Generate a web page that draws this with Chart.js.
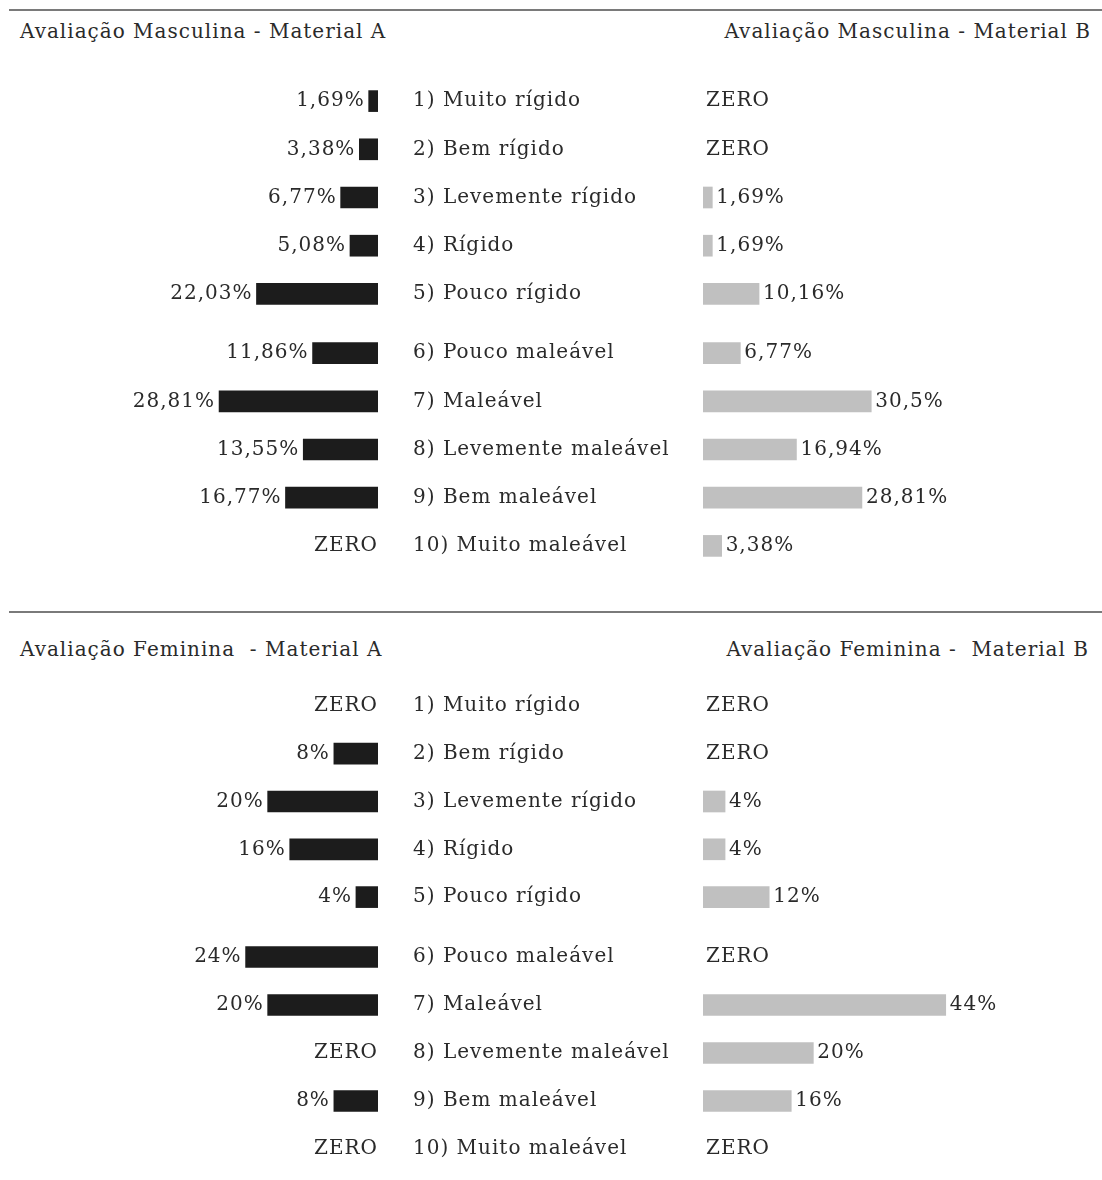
<!DOCTYPE html>
<html>
<head>
<meta charset="utf-8">
<script src="https://cdn.jsdelivr.net/npm/chart.js@4"></script>
<style>
  body { margin: 0; background: #fff; }
  #page { position: relative; width: 1102px; height: 1180px; font-family: "DejaVu Serif", serif; font-size: 20px; letter-spacing: 1px; color: #2a2a2a; }
  .rule { position: absolute; left: 9px; right: 0; height: 2px; background: #7a7a7a; }
  .ttl { position: absolute; white-space: pre; line-height: 24px; }
  .box { position: absolute; }
</style>
</head>
<body>
<div id="page">
  <div class="rule" style="top:9px"></div>
  <div class="ttl" style="left:20px;top:19px">Avaliação Masculina - Material A</div>
  <div class="ttl" style="right:11px;top:19px">Avaliação Masculina - Material B</div>
  <!-- rows 1-5 and 6-10 sit in separate blocks: the original leaves a small gap between them -->
  <div class="box" style="left:0;top:77px;width:380px;height:241px"><canvas id="masc-a-1"></canvas></div>
  <div class="box" style="left:413px;top:77px;width:689px;height:241px"><canvas id="masc-b-1"></canvas></div>
  <div class="box" style="left:0;top:329px;width:380px;height:241px"><canvas id="masc-a-2"></canvas></div>
  <div class="box" style="left:413px;top:329px;width:689px;height:241px"><canvas id="masc-b-2"></canvas></div>

  <div class="rule" style="top:611px"></div>
  <div class="ttl" style="left:20px;top:637px">Avaliação Feminina  - Material A</div>
  <div class="ttl" style="right:13px;top:637px">Avaliação Feminina -  Material B</div>
  <div class="box" style="left:0;top:682px;width:380px;height:239px"><canvas id="fem-a-1"></canvas></div>
  <div class="box" style="left:413px;top:682px;width:689px;height:239px"><canvas id="fem-b-1"></canvas></div>
  <div class="box" style="left:0;top:933px;width:380px;height:240px"><canvas id="fem-a-2"></canvas></div>
  <div class="box" style="left:413px;top:933px;width:689px;height:240px"><canvas id="fem-b-2"></canvas></div>
</div>
<script>
const categories = ['1) Muito rígido', '2) Bem rígido', '3) Levemente rígido', '4) Rígido', '5) Pouco rígido',
  '6) Pouco maleável', '7) Maleável', '8) Levemente maleável', '9) Bem maleável', '10) Muito maleável'];
const masculinoA = [1.69, 3.38, 6.77, 5.08, 22.03, 11.86, 28.81, 13.55, 16.77, 0];
const masculinoB = [0, 0, 1.69, 1.69, 10.16, 6.77, 30.5, 16.94, 28.81, 3.38];
const femininoA = [0, 8, 20, 16, 4, 24, 20, 0, 8, 0];
const femininoB = [0, 0, 4, 4, 12, 0, 44, 20, 16, 0];

const FONT = '"DejaVu Serif", serif';
const TEXT = '#2a2a2a';

function fmt(v) {
  return String(v).replace('.', ',') + '%';
}

// a little letter spacing for all canvas text
const spacing = {
  id: 'spacing',
  beforeDraw(chart) { chart.ctx.letterSpacing = '1px'; }
};

// writes the percentage (or ZERO) next to every bar
const valueLabels = {
  id: 'valueLabels',
  afterDatasetsDraw(chart, args, opts) {
    const ctx = chart.ctx;
    const data = chart.data.datasets[0].data;
    const left = opts.side === 'left';
    ctx.save();
    ctx.font = '20px ' + FONT;
    ctx.fillStyle = TEXT;
    ctx.textBaseline = 'middle';
    ctx.textAlign = left ? 'right' : 'left';
    chart.getDatasetMeta(0).data.forEach((bar, i) => {
      const v = data[i];
      if (v === 0) {
        ctx.fillText('ZERO', left ? bar.base : bar.base + 3, bar.y);
      } else {
        ctx.fillText(fmt(v), left ? bar.x - 4 : bar.x + 4, bar.y);
      }
    });
    ctx.restore();
  }
};

function sideChart(id, labels, values, side) {
  const left = side === 'left';
  const color = left ? '#1c1c1c' : '#c0c0c0';
  new Chart(document.getElementById(id), {
    type: 'bar',
    data: {
      labels: labels,
      datasets: [{
        data: values,
        backgroundColor: values.map(v => v === 0 ? 'rgba(0,0,0,0)' : color),
        barThickness: 21
      }]
    },
    options: {
      indexAxis: 'y',
      responsive: true,
      maintainAspectRatio: false,
      animation: false,
      layout: { padding: left ? { left: 47, right: 2, top: 0, bottom: 0 } : { left: 0, right: 68, top: 0, bottom: 0 } },
      plugins: {
        legend: { display: false },
        tooltip: { enabled: false },
        valueLabels: { side: side }
      },
      scales: {
        x: { display: false, min: 0, max: 60, reverse: left },
        y: left ? { display: false } : {
          grid: { display: false },
          border: { display: false },
          afterFit(scale) {
            scale.width = 290;
            scale.paddingTop = 0;
            scale.paddingBottom = 0;
          },
          ticks: { crossAlign: 'far', padding: 0, color: TEXT, font: { family: FONT, size: 20 } }
        }
      }
    },
    plugins: [spacing, valueLabels]
  });
}

function panel(prefix, valuesA, valuesB) {
  [[0, 5], [5, 10]].forEach(([from, to], k) => {
    const labels = categories.slice(from, to);
    sideChart(prefix + '-a-' + (k + 1), labels, valuesA.slice(from, to), 'left');
    sideChart(prefix + '-b-' + (k + 1), labels, valuesB.slice(from, to), 'right');
  });
}

panel('masc', masculinoA, masculinoB);
panel('fem', femininoA, femininoB);
</script>
</body>
</html>
